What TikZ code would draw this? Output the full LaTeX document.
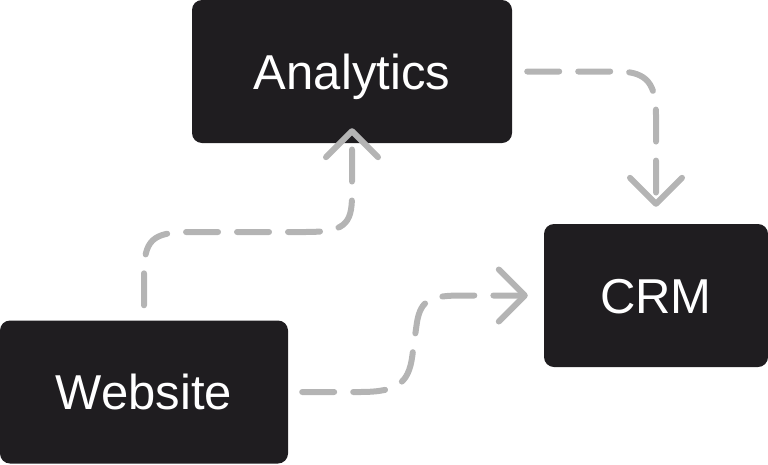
\documentclass[tikz,border=0pt]{standalone}
\usepackage{fontspec}
\setmainfont{Liberation Sans}
\usepackage{xcolor}
\usetikzlibrary{arrows.meta}
\definecolor{boxfill}{HTML}{1F1D20}
\definecolor{linkgray}{HTML}{B4B4B4}
\tikzset{
    block/.style={
        rectangle,
        rounded corners=10pt,
        fill=boxfill,
        text=white,
        text centered,
        inner sep=0pt,
        minimum height=143pt,
        text height=35pt,
        text depth=0pt,
        font=\fontsize{49}{58}\selectfont
    },
    link/.style={
        draw=linkgray,
        line width=6pt,
        line cap=round,
        line join=round,
        dash pattern=on 32pt off 19pt,
        -{Straight Barb[length=26pt,width=52pt,round]}
    }
}

\begin{document}
\begin{tikzpicture}[x=1pt,y=-1pt]
          \useasboundingbox (0,0) rectangle (768,464);
          \node (analytics) [block, minimum width=320pt] at (352,71.5) {Analytics};
          \node (crm) [block, minimum width=224pt] at (656,295.5) {CRM};
          \node (website) [block, minimum width=288pt] at (144,392) {Website};
          \draw [link] ([xshift=15pt]analytics.east) -- (618,71.5) .. controls (648,71.5) and (656,85) .. (656,115) -- ([yshift=17pt]crm.north);
          \draw [link] ([yshift=15pt]website.north) -- (144,275) .. controls (144,240) and (152,232) .. (190,232) -- (305,232) .. controls (344,232) and (352,225) .. (352,195) -- ([yshift=15pt]analytics.south);
          \draw [link] ([xshift=14pt]website.east) -- (360,392) .. controls (400,392) and (410,382) .. (413,350) -- (417,322) .. controls (421,300) and (430,295.5) .. (462,295.5) -- ([xshift=-16pt]crm.west);
        \end{tikzpicture}
\end{document}
